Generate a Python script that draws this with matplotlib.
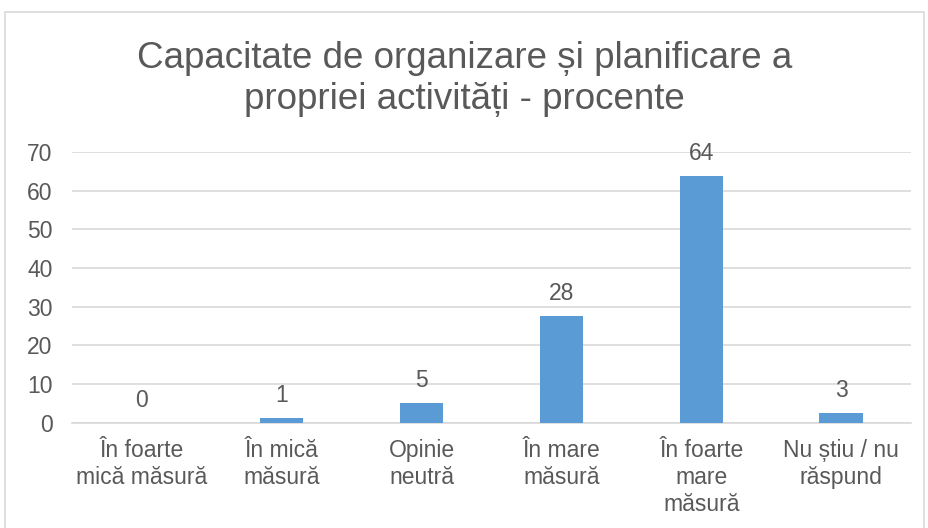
import matplotlib
matplotlib.use("Agg")
import matplotlib.pyplot as plt
from matplotlib.patches import Rectangle

categories = ["În foarte\nmică măsură", "În mică\nmăsură", "Opinie\nneutră",
              "În mare\nmăsură", "În foarte\nmare\nmăsură", "Nu știu / nu\nrăspund"]
values = [0.0, 1.3, 5.0, 27.6, 63.8, 2.6]
labels = ["0", "1", "5", "28", "64", "3"]
yticks = [0, 10, 20, 30, 40, 50, 60, 70]
title = "Capacitate de organizare și planificare a\npropriei activități - procente"

plt.rcParams['font.family'] = ['Liberation Sans', 'DejaVu Sans']
txt = '#595959'
fs = 16.5

fig = plt.figure(figsize=(9.29, 5.28), dpi=100)
fig.patches.append(Rectangle((5/929, -0.05), 919/929, 1.05 - 12/528, transform=fig.transFigure,
                             fill=False, edgecolor='#D9D9D9', linewidth=1.2))
ax = fig.add_axes([72/929, 1 - 422.7/528, (911 - 72)/929, (422.7 - 152)/528])
x = list(range(len(categories)))
ax.bar(x, values, width=0.31, color='#5B9BD5', zorder=3)
ax.set_xlim(-0.5, len(categories) - 0.5)
ax.set_ylim(0, 70)
ax.set_yticks(yticks)
ax.set_yticklabels([str(t) for t in yticks], fontsize=fs, color=txt)
ax.set_xticks(x)
ax.set_xticklabels(categories, fontsize=fs, color=txt, linespacing=1.22)
ax.tick_params(axis='both', length=0)
ax.tick_params(axis='y', pad=14)
ax.tick_params(axis='x', pad=12)
ax.grid(axis='y', color='#D9D9D9', linewidth=1.2, zorder=0)
for s in ['top', 'right', 'left']:
    ax.spines[s].set_visible(False)
ax.spines['bottom'].set_color('#D9D9D9')
ax.spines['bottom'].set_linewidth(1.2)
for xi, v, l in zip(x, values, labels):
    ax.annotate(l, (xi, v), xytext=(0, 8), textcoords='offset points',
                ha='center', va='bottom', fontsize=fs, color=txt)
fig.text(0.5, 1 - 79/528, title, ha='center', va='center', fontsize=26.5,
         color=txt, linespacing=1.22)
fig.savefig('out.png', dpi=100)
